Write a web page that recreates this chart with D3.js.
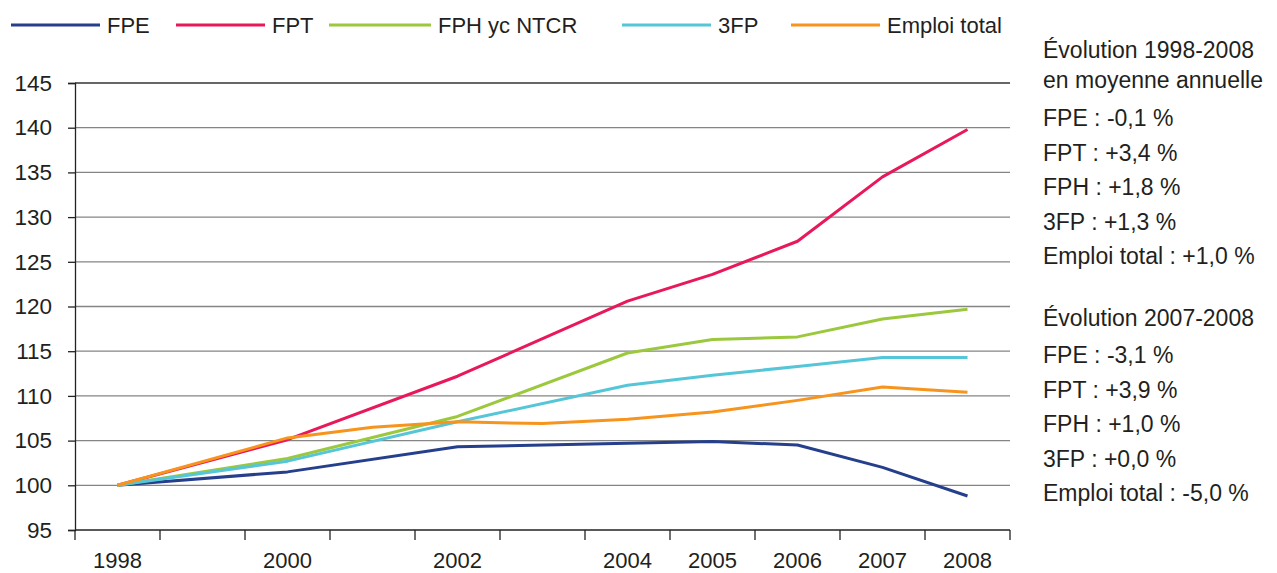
<!DOCTYPE html>
<html>
<head>
<meta charset="utf-8">
<script src="https://cdn.jsdelivr.net/npm/d3@7"></script>
<style>
  body { margin: 0; background: #fff; }
  svg text { font-family: "Liberation Sans", Arial, sans-serif; }
</style>
</head>
<body>
<div id="chart"></div>
<script>
// data (index 1998 = 100)
const years = ['1998', '1999', '2000', '2001', '2002', '2003', '2004', '2005', '2006', '2007', '2008'];
const yearLabels = ['1998', '', '2000', '', '2002', '', '2004', '2005', '2006', '2007', '2008'];
const fpe = [100, null, 101.5, null, 104.3, null, 104.7, 104.9, 104.5, 102.0, 98.8];
const fpt = [100, null, 105.1, null, 112.2, null, 120.6, 123.6, 127.3, 134.5, 139.8];
const fph = [100, null, 103.0, null, 107.7, null, 114.8, 116.3, 116.6, 118.6, 119.7];
const troisFp = [100, null, 102.7, null, 107.1, null, 111.2, 112.3, 113.3, 114.3, 114.3];
const emploiTotal = [100, null, 105.3, 106.5, 107.1, 106.9, 107.4, 108.2, 109.5, 111.0, 110.4];
const yTicks = [95, 100, 105, 110, 115, 120, 125, 130, 135, 140, 145];

const seriesNames = ['FPE', 'FPT', 'FPH yc NTCR', '3FP', 'Emploi total'];
const seriesColors = ['#263f8c', '#e8185a', '#9cc83d', '#55c6d8', '#f7941d'];
const seriesValues = [fpe, fpt, fph, troisFp, emploiTotal];

const noteTitle1 = ['Évolution 1998-2008', 'en moyenne annuelle'];
const noteLines1 = ['FPE : -0,1 %', 'FPT : +3,4 %', 'FPH : +1,8 %', '3FP : +1,3 %', 'Emploi total : +1,0 %'];
const noteTitle2 = ['Évolution 2007-2008'];
const noteLines2 = ['FPE : -3,1 %', 'FPT : +3,9 %', 'FPH : +1,0 %', '3FP : +0,0 %', 'Emploi total : -5,0 %'];

const width = 1277, height = 573;
const plot = { left: 75, right: 1010, top: 83, bottom: 530 };
const textColor = '#231f20';

const svg = d3.select('#chart').append('svg')
  .attr('width', width)
  .attr('height', height);

const x = d3.scaleBand().domain(years).range([plot.left, plot.right]);
const y = d3.scaleLinear().domain([95, 145]).range([plot.bottom, plot.top]);

// grid
svg.append('g').attr('class', 'grid')
  .selectAll('line')
  .data(yTicks.filter(d => d > 95))
  .enter().append('line')
  .attr('x1', plot.left).attr('x2', plot.right)
  .attr('y1', d => y(d)).attr('y2', d => y(d))
  .attr('stroke', d => d === 145 ? '#333' : '#858585')
  .attr('stroke-width', 1.3);

// y axis
const yAxis = d3.axisLeft(y).tickValues(yTicks).tickSize(7).tickPadding(16);
const gy = svg.append('g')
  .attr('transform', `translate(${plot.left},0)`)
  .call(yAxis);
gy.select('.domain').attr('stroke', '#222').attr('stroke-width', 1.3);
gy.selectAll('.tick line').attr('stroke', '#222').attr('stroke-width', 1.3);
gy.selectAll('.tick text')
  .attr('font-size', '22.5px').attr('fill', textColor)
  .attr('font-family', '"Liberation Sans", Arial, sans-serif');

// x axis: ticks between categories
const xAxisG = svg.append('g').attr('class', 'x axis');
xAxisG.append('line')
  .attr('x1', plot.left).attr('x2', plot.right)
  .attr('y1', plot.bottom).attr('y2', plot.bottom)
  .attr('stroke', '#222').attr('stroke-width', 1.3);
xAxisG.selectAll('line.tk')
  .data(years.concat(['end']))
  .enter().append('line')
  .attr('class', 'tk')
  .attr('x1', d => d === 'end' ? plot.right : x(d))
  .attr('x2', d => d === 'end' ? plot.right : x(d))
  .attr('y1', plot.bottom).attr('y2', plot.bottom + 10)
  .attr('stroke', '#222').attr('stroke-width', 1.3);
xAxisG.selectAll('text')
  .data(years)
  .enter().append('text')
  .attr('x', d => x(d) + x.bandwidth() / 2)
  .attr('y', plot.bottom + 38)
  .attr('text-anchor', 'middle')
  .attr('font-size', '22px')
  .attr('fill', textColor)
  .text((d, i) => yearLabels[i]);

// lines
const line = d3.line()
  .x(d => x(d.year) + x.bandwidth() / 2)
  .y(d => y(d.value));

seriesValues.forEach((vals, i) => {
  const pts = years.map((yr, j) => ({ year: yr, value: vals[j] }))
    .filter(d => d.value != null);
  svg.append('path')
    .datum(pts)
    .attr('fill', 'none')
    .attr('stroke', seriesColors[i])
    .attr('stroke-width', 3)
    .attr('stroke-linejoin', 'round')
    .attr('d', line);
});

// legend
const legendX = [11, 176, 329, 622, 791];
const legendLen = [89, 89, 102, 89, 89];
const legend = svg.append('g').attr('class', 'legend');
seriesNames.forEach((name, i) => {
  legend.append('line')
    .attr('x1', legendX[i]).attr('x2', legendX[i] + legendLen[i])
    .attr('y1', 25).attr('y2', 25)
    .attr('stroke', seriesColors[i]).attr('stroke-width', 3);
  legend.append('text')
    .attr('x', legendX[i] + legendLen[i] + 7)
    .attr('y', 33)
    .attr('font-size', '22px')
    .attr('fill', textColor)
    .text(name);
});

// notes on the right
const notes = svg.append('g').attr('font-size', '23px').attr('fill', textColor);
function writeLines(lines, startY, step) {
  lines.forEach((t, i) => {
    notes.append('text')
      .attr('x', 1043)
      .attr('y', startY + i * step)
      .text(t);
  });
}
writeLines(noteTitle1, 58, 30);
writeLines(noteLines1, 126, 34.6);
writeLines(noteTitle2, 326, 30);
writeLines(noteLines2, 363, 34.6);
</script>
</body>
</html>
